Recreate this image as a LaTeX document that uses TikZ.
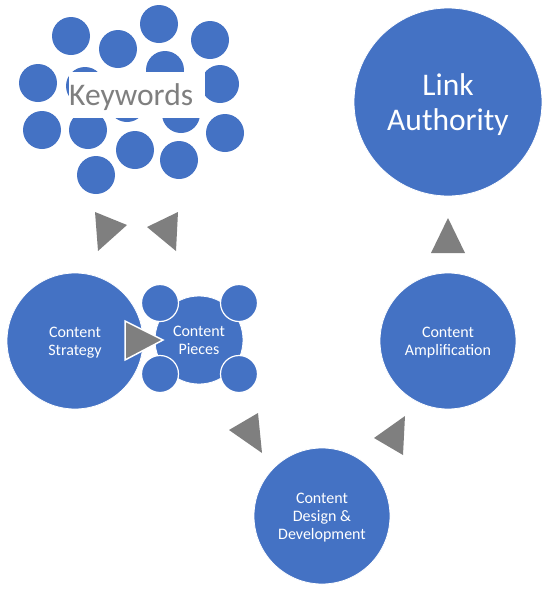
\documentclass[tikz,border=0pt]{standalone}
\usepackage{fontspec}
\setmainfont{Carlito}
\definecolor{seoblue}{RGB}{68,114,196}
\definecolor{pointgray}{RGB}{127,127,127}

\begin{document}
\begin{tikzpicture}[
  x=1pt, y=-1pt,
  stage/.style={circle, fill=seoblue, draw=white, line width=0.8pt, inner sep=0pt,
                minimum size=136pt, align=center, text=white, text depth=0pt,
                font=\fontsize{16}{18}\selectfont},
  kwdot/.style={circle, fill=seoblue, inner sep=0pt, minimum size=38pt},
  satellite/.style={kwdot, minimum size=37pt, draw=white, line width=1.2pt},
  pointer/.style={fill=pointgray},
  bigfont/.style={font=\fontsize{31.5}{35}\selectfont}
]
\useasboundingbox (0,0) rectangle (549,592);

% Keywords cloud
\node[kwdot] (kw1) at (71,36) {};
\node[kwdot] (kw2) at (118,49) {};
\node[kwdot] (kw3) at (159,24) {};
\node[kwdot] (kw4) at (210,40) {};
\node[kwdot] (kw5) at (38,83) {};
\node[kwdot] (kw6) at (85,86) {};
\node[kwdot] (kw7) at (165,70) {};
\node[kwdot] (kw8) at (220,84) {};
\node[kwdot] (kw9) at (42,130) {};
\node[kwdot] (kw10) at (88,130) {};
\node[kwdot] (kw11) at (127,103) {};
\node[kwdot] (kw12) at (181,114) {};
\node[kwdot] (kw13) at (225,133) {};
\node[kwdot] (kw14) at (135,150) {};
\node[kwdot] (kw15) at (179,160) {};
\node[kwdot] (kw16) at (96,175) {};
\node[bigfont, fill=white, text=pointgray, anchor=west, inner xsep=0pt, text depth=0pt,
      text width=136pt, align=left, minimum height=46pt] (keywords) at (69,95) {Keywords};

% Stages
\node[stage] (strategy) at (75,341) {Content\\Strategy};
\node[stage, minimum size=88pt] (pieces) at (199,340) {Content\\Pieces};
\node[satellite] (pc1) at (160,303) {};
\node[satellite] (pc2) at (239,303) {};
\node[satellite] (pc3) at (160,374) {};
\node[satellite] (pc4) at (239,374) {};
\node[stage] (design) at (322,516) {Content\\Design \&\\Development};
\node[stage] (amplify) at (448,341) {Content\\Amplification};
\node[stage, bigfont, minimum size=188pt] (authority) at (448,102) {Link\\Authority};

% Pointers
\fill[pointer] (95,212) -- (127,225) -- (98,251) -- cycle;
\fill[pointer] (178,212) -- (147,227) -- (176,251) -- cycle;
\filldraw[pointer, draw=white, line width=1.5pt] (125,321) -- (163,340) -- (125,360) -- cycle;
\fill[pointer] (258,413) -- (229,430) -- (262,453) -- cycle;
\fill[pointer] (405,416) -- (374,438) -- (403,455) -- cycle;
\fill[pointer] (448,218) -- (431,253) -- (465,253) -- cycle;

\end{tikzpicture}
\end{document}
